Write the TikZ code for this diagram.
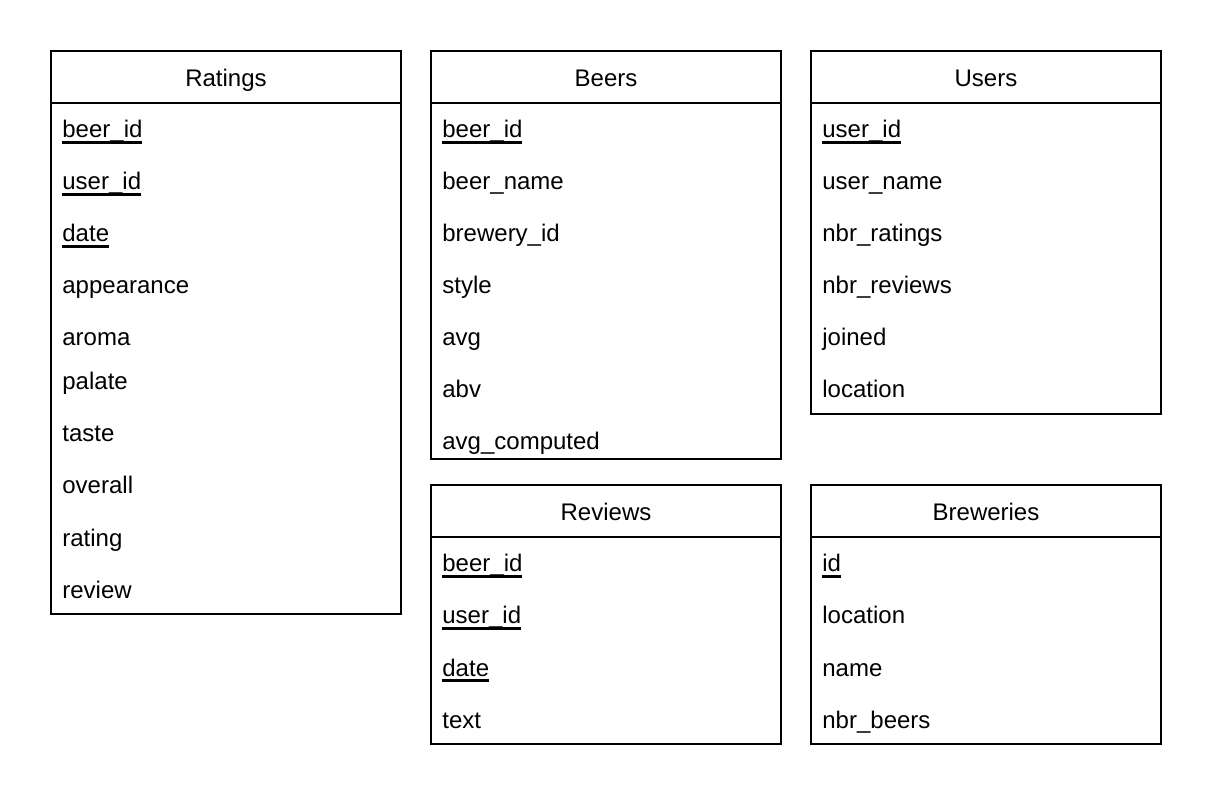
\documentclass[tikz,border=0pt]{standalone}
\usepackage{fontspec}
\setmainfont{Liberation Sans}
\usetikzlibrary{positioning}
\newcommand{\pk}[1]{\setbox0\hbox{#1}\rlap{\rule[-2.8pt]{\wd0}{1.1pt}}\box0}
\begin{document}
\begin{tikzpicture}[x=0.5pt,y=-0.5pt,
  every node/.style={font=\fontsize{12}{14.4}\selectfont},
  head/.style={draw,line width=1pt,outer sep=0pt,inner sep=0pt,minimum width=175pt,minimum height=26pt,anchor=north west,text height=10.6pt,text depth=1pt},
  body/.style={draw,line width=1pt,outer sep=0pt,inner sep=0pt,minimum width=175pt},
  field/.style={anchor=base west,inner sep=0pt}]
\pgfmathsetmacro{\ka}{62}
\pgfmathsetmacro{\kb}{442}
\pgfmathsetmacro{\kc}{822}
\fill[white] (0,0) rectangle (1212,802);
%
\node[head] (ratings) at (51,51) {Ratings};
\node[body,minimum height=255.5pt,below=0pt of ratings] (ratingsbody) {};
\node[field] (r1) at (\ka,138) {\pk{beer\_id}};
\node[field] (r2) at (\ka,190) {\pk{user\_id}};
\node[field] (r3) at (\ka,242) {\pk{date}};
\node[field] (r4) at (\ka,294) {appearance};
\node[field] (r5) at (\ka,346) {aroma};
\node[field] (r6) at (\ka,390) {palate};
\node[field] (r7) at (\ka,442) {taste};
\node[field] (r8) at (\ka,494) {overall};
\node[field] (r9) at (\ka,546) {rating};
\node[field] (r10) at (\ka,598) {review};
%
\node[head] (beers) at (431,51) {Beers};
\node[body,minimum height=178pt,below=0pt of beers] (beersbody) {};
\node[field] (b1) at (\kb,138) {\pk{beer\_id}};
\node[field] (b2) at (\kb,190) {beer\_name};
\node[field] (b3) at (\kb,242) {brewery\_id};
\node[field] (b4) at (\kb,294) {style};
\node[field] (b5) at (\kb,346) {avg};
\node[field] (b6) at (\kb,398) {abv};
\node[field] (b7) at (\kb,450) {avg\_computed};
%
\node[head] (users) at (811,51) {Users};
\node[body,minimum height=155.5pt,below=0pt of users] (usersbody) {};
\node[field] (u1) at (\kc,138) {\pk{user\_id}};
\node[field] (u2) at (\kc,190) {user\_name};
\node[field] (u3) at (\kc,242) {nbr\_ratings};
\node[field] (u4) at (\kc,294) {nbr\_reviews};
\node[field] (u5) at (\kc,346) {joined};
\node[field] (u6) at (\kc,398) {location};
%
\node[head] (reviews) at (431,485) {Reviews};
\node[body,minimum height=103.5pt,below=0pt of reviews] (reviewsbody) {};
\node[field] (v1) at (\kb,572) {\pk{beer\_id}};
\node[field] (v2) at (\kb,624) {\pk{user\_id}};
\node[field] (v3) at (\kb,676) {\pk{date}};
\node[field] (v4) at (\kb,728) {text};
%
\node[head] (breweries) at (811,485) {Breweries};
\node[body,minimum height=103.5pt,below=0pt of breweries] (breweriesbody) {};
\node[field] (w1) at (\kc,572) {\pk{id}};
\node[field] (w2) at (\kc,624) {location};
\node[field] (w3) at (\kc,676) {name};
\node[field] (w4) at (\kc,728) {nbr\_beers};
\end{tikzpicture}
\end{document}
